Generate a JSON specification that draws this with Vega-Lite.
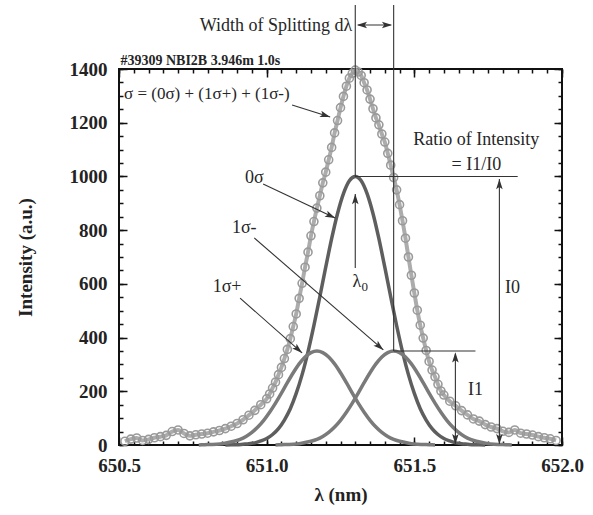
{
 "$schema": "https://vega.github.io/schema/vega-lite/v6.json",
 "width": 443,
 "height": 376,
 "autosize": {"type": "none"},
 "padding": {"left": 119, "top": 69, "right": 31, "bottom": 70},
 "background": "white",
 "config": {
  "view": {"stroke": "#111", "strokeWidth": 2},
  "axis": {"labelFont": "Liberation Serif", "labelFontWeight": "bold", "labelFontSize": 19, "labelColor": "#222", "titleFont": "Liberation Serif", "titleFontWeight": "bold", "titleFontSize": 19, "titleColor": "#222", "tickColor": "#111", "tickWidth": 1.5, "grid": false, "domain": false, "labelFlush": false, "labelOverlap": false},
  "text": {"font": "Liberation Serif", "color": "#262626"}
 },
 "datasets": {
  "gray": [
   {"wl": 650.52, "inten": 14}, {"wl": 650.54, "inten": 22}, {"wl": 650.56, "inten": 26}, {"wl": 650.58, "inten": 17}, {"wl": 650.60, "inten": 21}, {"wl": 650.62, "inten": 27}, {"wl": 650.64, "inten": 31}, {"wl": 650.66, "inten": 36}, {"wl": 650.68, "inten": 50}, {"wl": 650.70, "inten": 56}, {"wl": 650.72, "inten": 43}, {"wl": 650.74, "inten": 34}, {"wl": 650.76, "inten": 38}, {"wl": 650.78, "inten": 41}, {"wl": 650.80, "inten": 44}, {"wl": 650.82, "inten": 49}, {"wl": 650.84, "inten": 54}, {"wl": 650.86, "inten": 61}, {"wl": 650.88, "inten": 70}, {"wl": 650.90, "inten": 80}, {"wl": 650.92, "inten": 94}, {"wl": 650.94, "inten": 111}, {"wl": 650.96, "inten": 129}, {"wl": 650.98, "inten": 150},
   {"wl": 651.00, "inten": 172}, {"wl": 651.01, "inten": 190}, {"wl": 651.02, "inten": 212}, {"wl": 651.03, "inten": 234}, {"wl": 651.04, "inten": 262}, {"wl": 651.05, "inten": 289}, {"wl": 651.06, "inten": 322}, {"wl": 651.07, "inten": 356}, {"wl": 651.08, "inten": 396}, {"wl": 651.09, "inten": 441}, {"wl": 651.10, "inten": 488}, {"wl": 651.11, "inten": 546}, {"wl": 651.12, "inten": 602}, {"wl": 651.13, "inten": 662}, {"wl": 651.14, "inten": 718}, {"wl": 651.15, "inten": 779}, {"wl": 651.16, "inten": 832}, {"wl": 651.17, "inten": 882}, {"wl": 651.18, "inten": 928}, {"wl": 651.19, "inten": 976}, {"wl": 651.20, "inten": 1016}, {"wl": 651.21, "inten": 1062}, {"wl": 651.22, "inten": 1108}, {"wl": 651.23, "inten": 1162}, {"wl": 651.24, "inten": 1208}, {"wl": 651.25, "inten": 1256}, {"wl": 651.26, "inten": 1298}, {"wl": 651.27, "inten": 1336}, {"wl": 651.28, "inten": 1366}, {"wl": 651.29, "inten": 1384}, {"wl": 651.30, "inten": 1396},
   {"wl": 651.31, "inten": 1389}, {"wl": 651.32, "inten": 1376}, {"wl": 651.33, "inten": 1349}, {"wl": 651.34, "inten": 1322}, {"wl": 651.35, "inten": 1288}, {"wl": 651.36, "inten": 1252}, {"wl": 651.37, "inten": 1218}, {"wl": 651.38, "inten": 1192}, {"wl": 651.39, "inten": 1158}, {"wl": 651.40, "inten": 1128}, {"wl": 651.41, "inten": 1086}, {"wl": 651.42, "inten": 1042}, {"wl": 651.43, "inten": 996}, {"wl": 651.44, "inten": 950}, {"wl": 651.45, "inten": 895}, {"wl": 651.46, "inten": 835}, {"wl": 651.47, "inten": 770}, {"wl": 651.48, "inten": 700}, {"wl": 651.49, "inten": 632}, {"wl": 651.50, "inten": 566}, {"wl": 651.51, "inten": 502}, {"wl": 651.52, "inten": 446}, {"wl": 651.53, "inten": 398}, {"wl": 651.54, "inten": 352}, {"wl": 651.55, "inten": 311}, {"wl": 651.56, "inten": 279}, {"wl": 651.57, "inten": 254}, {"wl": 651.58, "inten": 226}, {"wl": 651.59, "inten": 201}, {"wl": 651.60, "inten": 186},
   {"wl": 651.62, "inten": 163}, {"wl": 651.64, "inten": 146}, {"wl": 651.66, "inten": 128}, {"wl": 651.68, "inten": 112}, {"wl": 651.70, "inten": 97}, {"wl": 651.72, "inten": 89}, {"wl": 651.74, "inten": 76}, {"wl": 651.76, "inten": 67}, {"wl": 651.78, "inten": 61}, {"wl": 651.80, "inten": 51}, {"wl": 651.82, "inten": 47}, {"wl": 651.84, "inten": 56}, {"wl": 651.86, "inten": 44}, {"wl": 651.88, "inten": 41}, {"wl": 651.90, "inten": 37}, {"wl": 651.92, "inten": 31}, {"wl": 651.94, "inten": 27}, {"wl": 651.96, "inten": 23}, {"wl": 651.98, "inten": 17}
  ],
  "s0": [
   {"wl": 650.86, "inten": 0}, {"wl": 650.88, "inten": 1}, {"wl": 650.90, "inten": 1}, {"wl": 650.92, "inten": 3}, {"wl": 650.94, "inten": 5}, {"wl": 650.96, "inten": 8}, {"wl": 650.98, "inten": 15}, {"wl": 651.00, "inten": 24}, {"wl": 651.02, "inten": 39}, {"wl": 651.04, "inten": 61}, {"wl": 651.06, "inten": 93}, {"wl": 651.08, "inten": 135}, {"wl": 651.10, "inten": 192}, {"wl": 651.12, "inten": 262}, {"wl": 651.14, "inten": 347}, {"wl": 651.16, "inten": 445}, {"wl": 651.18, "inten": 552}, {"wl": 651.20, "inten": 662}, {"wl": 651.22, "inten": 768}, {"wl": 651.24, "inten": 862}, {"wl": 651.26, "inten": 936}, {"wl": 651.28, "inten": 984}, {"wl": 651.30, "inten": 1000},
   {"wl": 651.32, "inten": 984}, {"wl": 651.34, "inten": 936}, {"wl": 651.36, "inten": 862}, {"wl": 651.38, "inten": 768}, {"wl": 651.40, "inten": 662}, {"wl": 651.42, "inten": 552}, {"wl": 651.44, "inten": 445}, {"wl": 651.46, "inten": 347}, {"wl": 651.48, "inten": 262}, {"wl": 651.50, "inten": 192}, {"wl": 651.52, "inten": 135}, {"wl": 651.54, "inten": 93}, {"wl": 651.56, "inten": 61}, {"wl": 651.58, "inten": 39}, {"wl": 651.60, "inten": 24}, {"wl": 651.62, "inten": 15}, {"wl": 651.64, "inten": 8}, {"wl": 651.66, "inten": 5}, {"wl": 651.68, "inten": 3}, {"wl": 651.70, "inten": 1}, {"wl": 651.72, "inten": 1}, {"wl": 651.74, "inten": 0}
  ],
  "sp": [
   {"wl": 650.77, "inten": 0}, {"wl": 650.79, "inten": 1}, {"wl": 650.81, "inten": 2}, {"wl": 650.83, "inten": 3}, {"wl": 650.85, "inten": 5}, {"wl": 650.87, "inten": 9}, {"wl": 650.89, "inten": 14}, {"wl": 650.91, "inten": 21}, {"wl": 650.93, "inten": 32}, {"wl": 650.95, "inten": 47}, {"wl": 650.97, "inten": 67}, {"wl": 650.99, "inten": 92}, {"wl": 651.01, "inten": 122}, {"wl": 651.03, "inten": 156}, {"wl": 651.05, "inten": 193}, {"wl": 651.07, "inten": 232}, {"wl": 651.09, "inten": 269}, {"wl": 651.11, "inten": 302}, {"wl": 651.13, "inten": 328}, {"wl": 651.15, "inten": 344}, {"wl": 651.17, "inten": 350},
   {"wl": 651.19, "inten": 344}, {"wl": 651.21, "inten": 328}, {"wl": 651.23, "inten": 302}, {"wl": 651.25, "inten": 269}, {"wl": 651.27, "inten": 232}, {"wl": 651.29, "inten": 193}, {"wl": 651.31, "inten": 156}, {"wl": 651.33, "inten": 122}, {"wl": 651.35, "inten": 92}, {"wl": 651.37, "inten": 67}, {"wl": 651.39, "inten": 47}, {"wl": 651.41, "inten": 32}, {"wl": 651.43, "inten": 21}, {"wl": 651.45, "inten": 14}, {"wl": 651.47, "inten": 9}, {"wl": 651.49, "inten": 5}, {"wl": 651.51, "inten": 3}, {"wl": 651.53, "inten": 2}, {"wl": 651.55, "inten": 1}, {"wl": 651.57, "inten": 0}
  ],
  "sm": [
   {"wl": 651.03, "inten": 0}, {"wl": 651.05, "inten": 1}, {"wl": 651.07, "inten": 2}, {"wl": 651.09, "inten": 3}, {"wl": 651.11, "inten": 5}, {"wl": 651.13, "inten": 9}, {"wl": 651.15, "inten": 14}, {"wl": 651.17, "inten": 21}, {"wl": 651.19, "inten": 32}, {"wl": 651.21, "inten": 47}, {"wl": 651.23, "inten": 67}, {"wl": 651.25, "inten": 92}, {"wl": 651.27, "inten": 122}, {"wl": 651.29, "inten": 156}, {"wl": 651.31, "inten": 193}, {"wl": 651.33, "inten": 232}, {"wl": 651.35, "inten": 269}, {"wl": 651.37, "inten": 302}, {"wl": 651.39, "inten": 328}, {"wl": 651.41, "inten": 344}, {"wl": 651.43, "inten": 350},
   {"wl": 651.45, "inten": 344}, {"wl": 651.47, "inten": 328}, {"wl": 651.49, "inten": 302}, {"wl": 651.51, "inten": 269}, {"wl": 651.53, "inten": 232}, {"wl": 651.55, "inten": 193}, {"wl": 651.57, "inten": 156}, {"wl": 651.59, "inten": 122}, {"wl": 651.61, "inten": 92}, {"wl": 651.63, "inten": 67}, {"wl": 651.65, "inten": 47}, {"wl": 651.67, "inten": 32}, {"wl": 651.69, "inten": 21}, {"wl": 651.71, "inten": 14}, {"wl": 651.73, "inten": 9}, {"wl": 651.75, "inten": 5}, {"wl": 651.77, "inten": 3}, {"wl": 651.79, "inten": 2}, {"wl": 651.81, "inten": 1}, {"wl": 651.83, "inten": 0}
  ],
  "rules": [
   {"x": 651.30, "y": 1638, "x2": 651.30, "y2": 1000},
   {"x": 651.30, "y": 935, "x2": 651.30, "y2": 659},
   {"x": 651.43, "y": 1638, "x2": 651.43, "y2": 350},
   {"x": 651.31, "y": 1564, "x2": 651.42, "y2": 1564},
   {"x": 651.30, "y": 1000, "x2": 651.85, "y2": 1000},
   {"x": 651.43, "y": 350, "x2": 651.707, "y2": 350},
   {"x": 651.788, "y": 990, "x2": 651.788, "y2": 5},
   {"x": 651.639, "y": 340, "x2": 651.639, "y2": 5},
   {"x": 651.086, "y": 1266, "x2": 651.215, "y2": 1221},
   {"x": 650.988, "y": 972, "x2": 651.232, "y2": 845},
   {"x": 650.958, "y": 771, "x2": 651.395, "y2": 354},
   {"x": 650.91, "y": 547, "x2": 651.12, "y2": 343}
  ]
 },
 "resolve": {"axis": {"x": "independent", "y": "independent"}},
 "layer": [
  {
   "data": {"name": "gray"},
   "mark": {"type": "line", "color": "#acacac", "strokeWidth": 4, "interpolate": "monotone", "point": {"filled": false, "stroke": "#9a9a9a", "strokeWidth": 1.6, "size": 64}},
   "encoding": {
    "x": {"field": "wl", "type": "quantitative", "scale": {"domain": [650.5, 652], "nice": false, "zero": false}, "axis": {"orient": "bottom", "values": [650.5, 651, 651.5, 652], "format": ".1f", "ticks": false, "labelPadding": 11, "title": "λ (nm)", "titlePadding": 10}},
    "y": {"field": "inten", "type": "quantitative", "scale": {"domain": [0, 1400], "nice": false}, "axis": {"orient": "left", "values": [0, 200, 400, 600, 800, 1000, 1200, 1400], "format": "d", "ticks": false, "labelPadding": 12, "title": "Intensity (a.u.)", "titlePadding": 34}}
   }
  },
  {
   "data": {"name": "s0"},
   "mark": {"type": "line", "color": "#5e5e5e", "strokeWidth": 3.5, "interpolate": "monotone"},
   "encoding": {
    "x": {"field": "wl", "type": "quantitative", "scale": {"domain": [650.5, 652], "nice": false, "zero": false}, "axis": {"orient": "bottom", "values": [650.5, 651, 651.5, 652], "labels": false, "tickSize": 8, "offset": -8, "title": null}},
    "y": {"field": "inten", "type": "quantitative", "scale": {"domain": [0, 1400], "nice": false}, "axis": {"orient": "left", "values": [0, 200, 400, 600, 800, 1000, 1200, 1400], "labels": false, "tickSize": 8, "offset": -8, "title": null}}
   }
  },
  {
   "data": {"name": "sp"},
   "mark": {"type": "line", "color": "#7a7a7a", "strokeWidth": 3.5, "interpolate": "monotone"},
   "encoding": {
    "x": {"field": "wl", "type": "quantitative", "scale": {"domain": [650.5, 652], "nice": false, "zero": false}, "axis": {"orient": "bottom", "values": [650.5, 650.55, 650.6, 650.65, 650.7, 650.75, 650.8, 650.85, 650.9, 650.95, 651, 651.05, 651.1, 651.15, 651.2, 651.25, 651.3, 651.35, 651.4, 651.45, 651.5, 651.55, 651.6, 651.65, 651.7, 651.75, 651.8, 651.85, 651.9, 651.95, 652], "labels": false, "tickSize": 4, "offset": -4, "title": null}},
    "y": {"field": "inten", "type": "quantitative", "scale": {"domain": [0, 1400], "nice": false}, "axis": {"orient": "left", "values": [0, 50, 100, 150, 200, 250, 300, 350, 400, 450, 500, 550, 600, 650, 700, 750, 800, 850, 900, 950, 1000, 1050, 1100, 1150, 1200, 1250, 1300, 1350, 1400], "labels": false, "tickSize": 4, "offset": -4, "title": null}}
   }
  },
  {
   "data": {"name": "sm"},
   "mark": {"type": "line", "color": "#7a7a7a", "strokeWidth": 3.5, "interpolate": "monotone"},
   "encoding": {
    "x": {"field": "wl", "type": "quantitative", "scale": {"domain": [650.5, 652], "nice": false, "zero": false}, "axis": {"orient": "top", "values": [650.5, 651, 651.5, 652], "labels": false, "tickSize": 8, "offset": -8, "title": null}},
    "y": {"field": "inten", "type": "quantitative", "scale": {"domain": [0, 1400], "nice": false}, "axis": {"orient": "right", "values": [0, 200, 400, 600, 800, 1000, 1200, 1400], "labels": false, "tickSize": 8, "offset": -8, "title": null}}
   }
  },
  {
   "data": {"name": "rules"},
   "mark": {"type": "rule", "color": "#333", "strokeWidth": 1.1},
   "encoding": {
    "x": {"field": "x", "type": "quantitative", "scale": {"domain": [650.5, 652], "nice": false, "zero": false}, "axis": {"orient": "top", "values": [650.5, 650.55, 650.6, 650.65, 650.7, 650.75, 650.8, 650.85, 650.9, 650.95, 651, 651.05, 651.1, 651.15, 651.2, 651.25, 651.3, 651.35, 651.4, 651.45, 651.5, 651.55, 651.6, 651.65, 651.7, 651.75, 651.8, 651.85, 651.9, 651.95, 652], "labels": false, "tickSize": 4, "offset": -4, "title": null}},
    "y": {"field": "y", "type": "quantitative", "scale": {"domain": [0, 1400], "nice": false}, "axis": {"orient": "right", "values": [0, 50, 100, 150, 200, 250, 300, 350, 400, 450, 500, 550, 600, 650, 700, 750, 800, 850, 900, 950, 1000, 1050, 1100, 1150, 1200, 1250, 1300, 1350, 1400], "labels": false, "tickSize": 4, "offset": -4, "title": null}},
    "x2": {"field": "x2"},
    "y2": {"field": "y2"}
   }
  },
  {
   "data": {"values": [{"x": 651.29, "y": 1541, "label": "Width of Splitting dλ"}]},
   "mark": {"type": "text", "fontSize": 18, "align": "right", "baseline": "alphabetic"},
   "encoding": {"x": {"field": "x", "type": "quantitative", "axis": null}, "y": {"field": "y", "type": "quantitative", "axis": null}, "text": {"field": "label"}}
  },
  {
   "data": {"values": [{"x": 650.505, "y": 1415, "label": "#39309 NBI2B 3.946m 1.0s"}]},
   "mark": {"type": "text", "fontSize": 14, "fontWeight": "bold", "align": "left", "baseline": "alphabetic"},
   "encoding": {"x": {"field": "x", "type": "quantitative", "axis": null}, "y": {"field": "y", "type": "quantitative", "axis": null}, "text": {"field": "label"}}
  },
  {
   "data": {"values": [{"x": 650.517, "y": 1288, "label": "σ = (0σ) + (1σ+) + (1σ-)"}]},
   "mark": {"type": "text", "fontSize": 17, "align": "left", "baseline": "alphabetic"},
   "encoding": {"x": {"field": "x", "type": "quantitative", "axis": null}, "y": {"field": "y", "type": "quantitative", "axis": null}, "text": {"field": "label"}}
  },
  {
   "data": {"values": [
    {"x": 651.71, "y": 1117, "label": "Ratio of Intensity"},
    {"x": 651.71, "y": 1024, "label": "= I1/I0"},
    {"x": 650.958, "y": 975, "label": "0σ"},
    {"x": 650.924, "y": 789, "label": "1σ-"},
    {"x": 650.866, "y": 570, "label": "1σ+"},
    {"x": 651.305, "y": 588, "label": "λ"},
    {"x": 651.832, "y": 566, "label": "I0"},
    {"x": 651.707, "y": 186, "label": "I1"}
   ]},
   "mark": {"type": "text", "fontSize": 18, "align": "center", "baseline": "alphabetic"},
   "encoding": {"x": {"field": "x", "type": "quantitative", "axis": null}, "y": {"field": "y", "type": "quantitative", "axis": null}, "text": {"field": "label"}}
  },
  {
   "data": {"values": [{"x": 651.332, "y": 572, "label": "0"}]},
   "mark": {"type": "text", "fontSize": 13, "align": "center", "baseline": "alphabetic"},
   "encoding": {"x": {"field": "x", "type": "quantitative", "axis": null}, "y": {"field": "y", "type": "quantitative", "axis": null}, "text": {"field": "label"}}
  },
  {
   "data": {"values": [{"x": 651.30, "y": 935}, {"x": 651.788, "y": 990}, {"x": 651.639, "y": 345}]},
   "mark": {"type": "point", "shape": "M0,0L-0.32,1L0,0.78L0.32,1Z", "size": 420, "filled": true, "color": "#333", "opacity": 1, "angle": 0},
   "encoding": {"x": {"field": "x", "type": "quantitative", "axis": null}, "y": {"field": "y", "type": "quantitative", "axis": null}}
  },
  {
   "data": {"values": [{"x": 651.788, "y": 3}, {"x": 651.639, "y": 3}]},
   "mark": {"type": "point", "shape": "M0,0L-0.32,1L0,0.78L0.32,1Z", "size": 420, "filled": true, "color": "#333", "opacity": 1, "angle": 180},
   "encoding": {"x": {"field": "x", "type": "quantitative", "axis": null}, "y": {"field": "y", "type": "quantitative", "axis": null}}
  },
  {
   "data": {"values": [{"x": 651.305, "y": 1564}]},
   "mark": {"type": "point", "shape": "M0,0L-0.32,1L0,0.78L0.32,1Z", "size": 420, "filled": true, "color": "#333", "opacity": 1, "angle": 270},
   "encoding": {"x": {"field": "x", "type": "quantitative", "axis": null}, "y": {"field": "y", "type": "quantitative", "axis": null}}
  },
  {
   "data": {"values": [{"x": 651.425, "y": 1564}]},
   "mark": {"type": "point", "shape": "M0,0L-0.32,1L0,0.78L0.32,1Z", "size": 420, "filled": true, "color": "#333", "opacity": 1, "angle": 90},
   "encoding": {"x": {"field": "x", "type": "quantitative", "axis": null}, "y": {"field": "y", "type": "quantitative", "axis": null}}
  },
  {
   "data": {"values": [{"x": 651.215, "y": 1221}]},
   "mark": {"type": "point", "shape": "M0,0L-0.32,1L0,0.78L0.32,1Z", "size": 420, "filled": true, "color": "#333", "opacity": 1, "angle": 107.5},
   "encoding": {"x": {"field": "x", "type": "quantitative", "axis": null}, "y": {"field": "y", "type": "quantitative", "axis": null}}
  },
  {
   "data": {"values": [{"x": 651.232, "y": 845}]},
   "mark": {"type": "point", "shape": "M0,0L-0.32,1L0,0.78L0.32,1Z", "size": 420, "filled": true, "color": "#333", "opacity": 1, "angle": 115.3},
   "encoding": {"x": {"field": "x", "type": "quantitative", "axis": null}, "y": {"field": "y", "type": "quantitative", "axis": null}}
  },
  {
   "data": {"values": [{"x": 651.395, "y": 354}, {"x": 651.12, "y": 343}]},
   "mark": {"type": "point", "shape": "M0,0L-0.32,1L0,0.78L0.32,1Z", "size": 420, "filled": true, "color": "#333", "opacity": 1, "angle": 131.3},
   "encoding": {"x": {"field": "x", "type": "quantitative", "axis": null}, "y": {"field": "y", "type": "quantitative", "axis": null}}
  }
 ]
}
